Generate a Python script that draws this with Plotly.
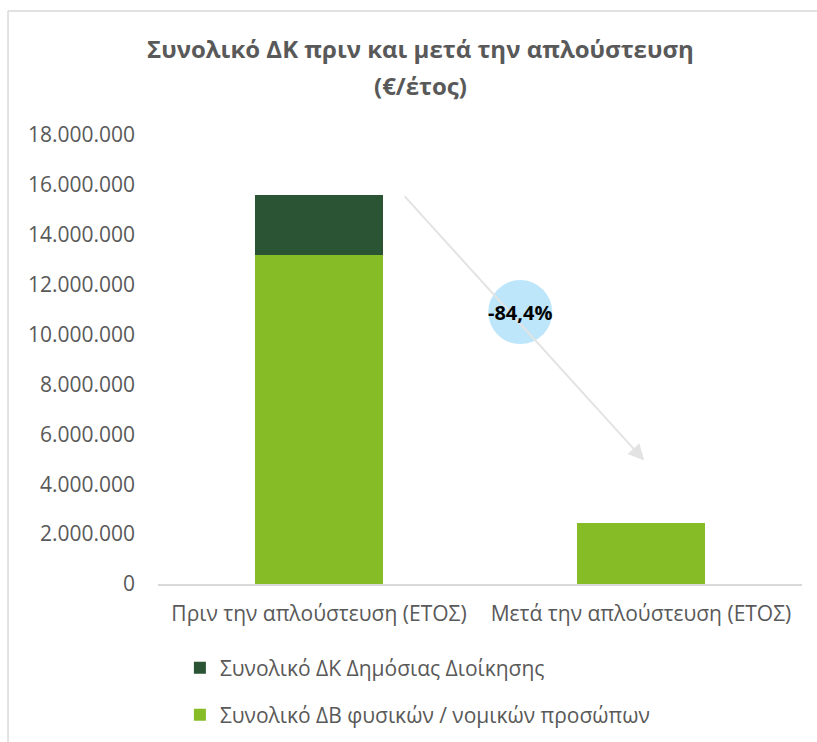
import plotly.graph_objects as go

categories = ["Πριν την απλούστευση (ΕΤΟΣ)", "Μετά την απλούστευση (ΕΤΟΣ)"]
series_names = ["Συνολικό ΔΒ φυσικών / νομικών προσώπων", "Συνολικό ΔΚ Δημόσιας Διοίκησης"]
db_values = [13200000, 2430000]
dk_values = [2400000, 0]
y_ticks = [0, 2000000, 4000000, 6000000, 8000000, 10000000, 12000000, 14000000, 16000000, 18000000]
y_tick_labels = ["0", "2.000.000", "4.000.000", "6.000.000", "8.000.000", "10.000.000",
                 "12.000.000", "14.000.000", "16.000.000", "18.000.000"]
title_lines = ["Συνολικό ΔΚ πριν και μετά την απλούστευση", "(€/έτος)"]

colors = ["#86BC25", "#2B5434"]

total_before = db_values[0] + dk_values[0]
total_after = db_values[1] + dk_values[1]
pct = (total_after / total_before - 1) * 100
pct_text = f"{pct:.1f}%".replace(".", ",")

font_main = "Open Sans, DejaVu Sans, sans-serif"
grey = "#595959"

fig = go.Figure()
fig.add_trace(go.Bar(x=categories, y=db_values, name=series_names[0], legend="legend2",
                     marker=dict(color=colors[0], line=dict(width=0)), width=0.4))
fig.add_trace(go.Bar(x=categories, y=dk_values, name=series_names[1], legend="legend",
                     marker=dict(color=colors[1], line=dict(width=0)), width=0.4))

fig.update_layout(
    barmode="stack",
    width=817, height=742,
    margin=dict(l=158, r=15, t=135, b=158, autoexpand=False),
    paper_bgcolor="white", plot_bgcolor="white",
    font=dict(family=font_main, size=21, color=grey),
    xaxis=dict(showline=True, linecolor="#D9D9D9", linewidth=1.5, ticks="",
               tickfont=dict(size=21, color=grey), showgrid=False, ticklabelstandoff=10),
    yaxis=dict(range=[0, 18000000], tickvals=y_ticks, ticktext=y_tick_labels,
               showgrid=False, zeroline=False, showline=False, ticks="",
               tickfont=dict(size=21, color=grey), ticklabelstandoff=22),
    legend=dict(x=0.034, y=0.0997, yref="container", yanchor="middle", xanchor="left",
                font=dict(size=21, color=grey), bgcolor="rgba(0,0,0,0)"),
    legend2=dict(x=0.034, y=0.0364, yref="container", yanchor="middle", xanchor="left",
                 font=dict(size=21, color=grey), bgcolor="rgba(0,0,0,0)"),
    showlegend=True,
)

# title lines
for txt, yy in zip(title_lines, [1.1935, 1.1095]):
    fig.add_annotation(text=f"<b>{txt}</b>", xref="paper", yref="paper", x=0.408, y=yy,
                       xanchor="center", yanchor="middle", showarrow=False,
                       font=dict(family="Open Sans, sans-serif", size=24, color=grey))

# chart border (left and top)
fig.add_shape(type="line", xref="paper", yref="paper", x0=-0.2329, x1=-0.2329, y0=-0.4, y1=1.276,
              line=dict(color="#D9D9D9", width=1.5))
fig.add_shape(type="line", xref="paper", yref="paper", x0=-0.2329, x1=1.05, y0=1.276, y1=1.276,
              line=dict(color="#D9D9D9", width=1.5))

# arrow
fig.add_annotation(x=1.01, y=4.95e6, ax=0.262, ay=total_before, xref="x", yref="y",
                   axref="x", ayref="y", showarrow=True, arrowhead=2, arrowsize=1.6,
                   arrowwidth=2, arrowcolor="#E3E3E3", text="")

# circle with percentage
fig.add_shape(type="circle", xref="x", yref="y", xsizemode="pixel", ysizemode="pixel",
              xanchor=0.625, yanchor=10.9e6, x0=-32, x1=32, y0=-32, y1=32,
              fillcolor="#BDE6FA", line=dict(width=0), layer="below")
fig.add_annotation(x=0.625, y=10.9e6, xref="x", yref="y", text=f"<b>{pct_text}</b>",
                   showarrow=False, font=dict(size=20, color="black", family="Open Sans, sans-serif"))

fig.write_html("out.html", config={"displayModeBar": False},
               post_script="document.body.style.margin='0';document.body.style.overflow='hidden';")
